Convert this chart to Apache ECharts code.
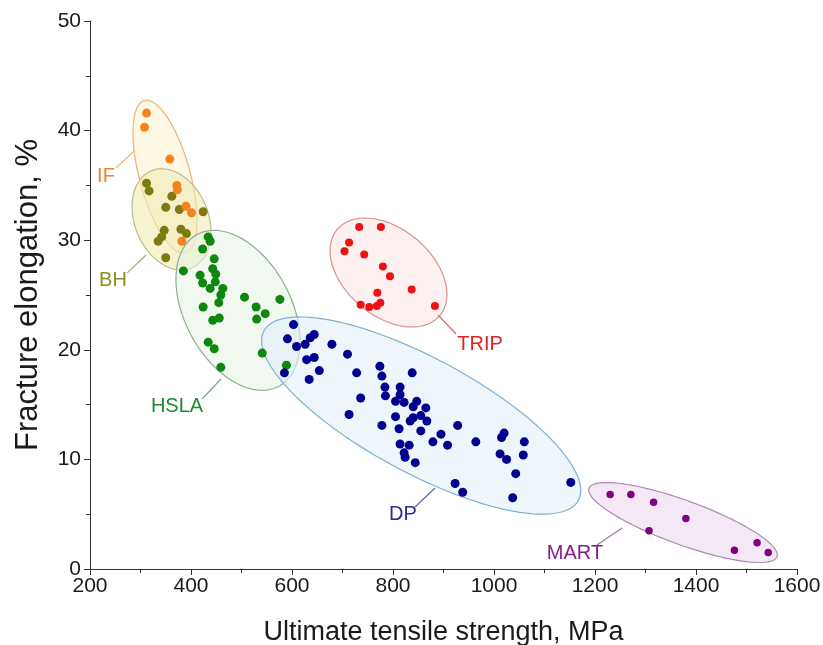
<!DOCTYPE html>
<html>
<head>
<meta charset="utf-8">
<script src="https://cdn.jsdelivr.net/npm/echarts@6/dist/echarts.min.js"></script>
<style>
  html, body { margin: 0; padding: 0; background: #ffffff; }
  #chart { width: 823px; height: 645px; }
</style>
</head>
<body>
<div id="chart"></div>
<script>
// Steel grades: ultimate tensile strength (MPa) against fracture elongation (%)
const groupNames = ['IF', 'BH', 'HSLA', 'DP', 'TRIP', 'MART'];

const ifPoints = [[312,41.6],[308,40.3],[358,37.4],[372,35.0],[373,34.6],[390,33.1],[401,32.5],[382,29.9]];
const bhPoints = [[312,35.2],[317,34.5],[362,34.0],[350,33.0],[377,32.8],[424,32.6],[347,30.9],[380,31.0],
  [391,30.6],[342,30.3],[335,29.9],[350,28.4]];
const hslaPoints = [[434,30.3],[438,29.9],[423,29.2],[385,27.2],[446,28.3],[443,27.4],[449,26.9],[418,26.8],
  [423,26.1],[448,26.2],[438,25.6],[463,25.6],[459,25.0],[455,24.3],[506,24.8],[576,24.6],[529,23.9],
  [547,23.3],[530,22.8],[424,23.9],[443,22.7],[456,22.9],[434,20.7],[446,20.1],[541,19.7],[459,18.4],[589,18.6]];
const dpPoints = [[603,22.3],[591,21.0],[609,20.3],[626,20.5],[636,21.1],[644,21.4],[679,20.5],[710,19.6],
  [629,19.1],[644,19.3],[654,18.1],[634,17.3],[585,17.9],[728,17.9],[774,18.5],[778,17.6],[838,17.9],
  [784,16.6],[785,15.8],[814,16.6],[814,15.9],[805,15.3],[822,15.2],[847,15.3],[840,14.8],[865,14.7],
  [736,15.6],[713,14.1],[805,13.9],[834,13.5],[840,13.8],[855,14.0],[867,13.5],[778,13.1],[812,12.8],
  [855,12.6],[895,12.3],[928,13.1],[879,11.6],[908,11.3],[814,11.4],[832,11.3],[822,10.6],[824,10.2],
  [844,9.7],[964,11.6],[1020,12.4],[1015,12.0],[1060,11.6],[1012,10.5],[1025,10.0],[1058,10.4],
  [1043,8.7],[1152,7.9],[923,7.8],[938,7.0],[1037,6.5]];
const tripPoints = [[733,31.2],[776,31.2],[713,29.8],[704,29.0],[743,28.7],[780,27.6],[794,26.7],[769,25.2],
  [837,25.5],[736,24.1],[753,23.9],[768,24.0],[775,24.3],[883,24.0]];
const martPoints = [[1230,6.8],[1271,6.8],[1316,6.1],[1380,4.6],[1307,3.5],[1521,2.4],[1476,1.7],[1543,1.5]];

// Group outlines in data units: centre, and the two half-axis vectors of each ellipse
const regionCentres = [[348.5,35.8],[361.4,31.9],[493.1,23.6],[855.8,14.0],[791.1,27.05],[1374.3,4.24]];
const regionAxisU  = [[40.7,-6.95],[39.8,-4.43],[80.7,-6.93],[311.4,-7.73],[101.6,-3.93],[186.1,-3.12]];
const regionAxisV  = [[-48.6,-0.60],[-67.3,-1.29],[-92.7,-2.29],[-53.9,-4.61],[-55.4,-3.04],[-14.9,-1.89]];

// Group name labels and their leader lines, in data units
const labelAt    = [[231.7,35.85],[245.5,26.37],[372.3,14.87],[819.8,4.93],[972.3,20.53],[1160.4,1.46]];
const leaderFrom = [[251.5,36.6],[273.3,27.0],[421.8,15.5],[843.6,5.66],[924.8,21.44],[1204,2.19]];
const leaderTo   = [[287.1,38.1],[310.9,28.65],[459.4,17.34],[883.2,7.39],[889.1,23.18],[1253.5,3.74]];

const dotColours    = ['#f5821f', '#7b7b10', '#0f870f', '#00008f', '#ee1111', '#800080'];
const labelColours  = ['#f08426', '#8c8c22', '#1f8a2f', '#2a2a90', '#e32222', '#8a1a8a'];
const fillColours   = ['rgba(253,238,196,0.45)', 'rgba(240,235,178,0.6)', 'rgba(229,242,225,0.55)',
                       'rgba(226,239,249,0.6)', 'rgba(252,228,228,0.55)', 'rgba(241,224,243,0.75)'];
const strokeColours = ['#e9b57c', '#c0bb8a', '#8cb08f', '#7fb1cf', '#d99292', '#b088b8'];
const leaderColours = ['#e9a868', '#a7a77a', '#6f9f80', '#5b6aa2', '#d46464', '#a273aa'];

const seriesPoints = [ifPoints, bhPoints, hslaPoints, dpPoints, tripPoints, martPoints];
const dotSizes = [9, 9, 9, 9, 8, 7.5];

function renderRegion(params, api) {
  const i = params.dataIndex;
  const c = regionCentres[i], u = regionAxisU[i], v = regionAxisV[i];
  const pts = [];
  const n = 120;
  for (let k = 0; k < n; k++) {
    const t = 2 * Math.PI * k / n;
    const ct = Math.cos(t), st = Math.sin(t);
    pts.push(api.coord([c[0] + u[0] * ct + v[0] * st, c[1] + u[1] * ct + v[1] * st]));
  }
  const lp = api.coord(labelAt[i]);
  const a = api.coord(leaderFrom[i]);
  const b = api.coord(leaderTo[i]);
  return {
    type: 'group',
    children: [
      { type: 'polygon', shape: { points: pts },
        style: { fill: fillColours[i], stroke: strokeColours[i], lineWidth: 1.2 } },
      { type: 'line', shape: { x1: a[0], y1: a[1], x2: b[0], y2: b[1] },
        style: { stroke: leaderColours[i], lineWidth: 1.2 } },
      { type: 'text', x: lp[0], y: lp[1],
        style: { text: groupNames[i], fill: labelColours[i],
                 font: '20px "Liberation Sans", Arial, sans-serif',
                 align: 'center', verticalAlign: 'middle',
                 textAlign: 'center', textVerticalAlign: 'middle' } }
    ]
  };
}

// Scatter draw order: BH under IF, the rest on top of the outlines
const drawOrder = [1, 0, 2, 3, 4, 5];
const scatterSeries = drawOrder.map(function (i) {
  return {
    name: groupNames[i],
    type: 'scatter',
    z: 3,
    symbol: 'circle',
    symbolSize: dotSizes[i],
    itemStyle: { color: dotColours[i], opacity: 1 },
    emphasis: { disabled: true },
    data: seriesPoints[i]
  };
});

const axisFont = '"Liberation Sans", Arial, sans-serif';
const plainNumber = function (v) { return String(v); };

const chart = echarts.init(document.getElementById('chart'), null, { renderer: 'canvas' });
chart.setOption({
  animation: false,
  backgroundColor: '#ffffff',
  grid: { left: 90, right: 26, top: 21, bottom: 76, containLabel: false, outerBoundsMode: 'none' },
  xAxis: {
    type: 'value', min: 200, max: 1600, interval: 200,
    name: 'Ultimate tensile strength, MPa',
    nameLocation: 'middle', nameGap: 50,
    nameTextStyle: { fontSize: 27, color: '#1a1a1a', fontFamily: axisFont },
    axisLine: { show: true, onZero: false, lineStyle: { color: '#333333', width: 1 } },
    axisTick: { show: true, inside: false, length: 6, lineStyle: { color: '#333333' } },
    minorTick: { show: true, splitNumber: 2, length: 4, lineStyle: { color: '#333333' } },
    splitLine: { show: false },
    axisLabel: { margin: 7, fontSize: 21, color: '#1a1a1a', fontFamily: axisFont, formatter: plainNumber }
  },
  yAxis: {
    type: 'value', min: 0, max: 50, interval: 10,
    name: 'Fracture elongation, %',
    nameLocation: 'middle', nameGap: 46,
    nameTextStyle: { fontSize: 31, color: '#1a1a1a', fontFamily: axisFont },
    axisLine: { show: true, onZero: false, lineStyle: { color: '#333333', width: 1 } },
    axisTick: { show: true, inside: false, length: 6, lineStyle: { color: '#333333' } },
    minorTick: { show: true, splitNumber: 2, length: 4, lineStyle: { color: '#333333' } },
    splitLine: { show: false },
    axisLabel: { margin: 9, fontSize: 21, color: '#1a1a1a', fontFamily: axisFont, formatter: plainNumber }
  },
  series: [{
    type: 'custom',
    z: 1,
    silent: true,
    clip: false,
    renderItem: renderRegion,
    data: regionCentres
  }].concat(scatterSeries)
});
</script>
</body>
</html>
